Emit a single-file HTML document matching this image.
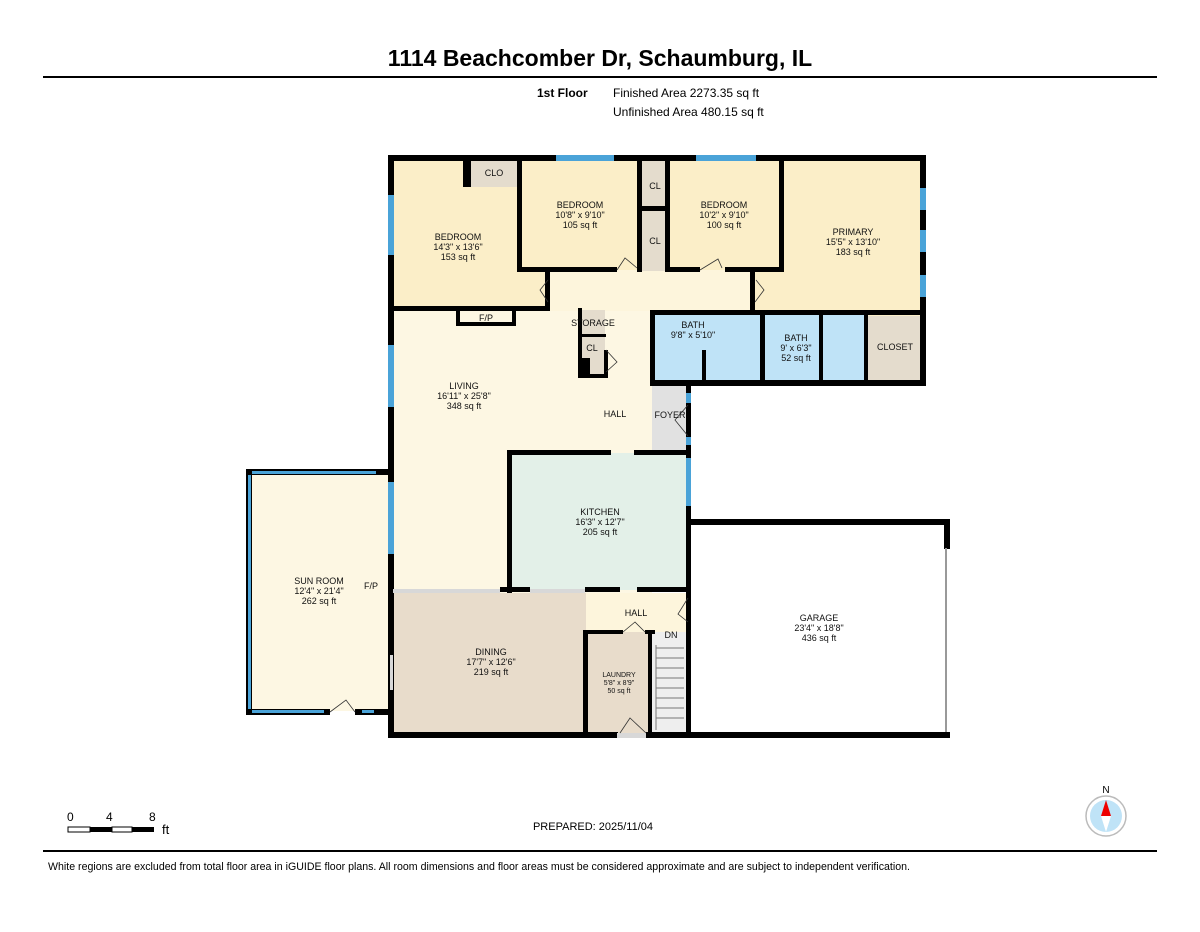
<!DOCTYPE html>
<html><head><meta charset="utf-8"><style>
body{margin:0;background:#fff;width:1200px;height:927px;overflow:hidden;font-family:"Liberation Sans",sans-serif}
svg text{font-family:"Liberation Sans",sans-serif}
</style></head><body>
<svg width="1200" height="927" viewBox="0 0 1200 927" xmlns="http://www.w3.org/2000/svg">
<text x="600" y="66" font-size="23" font-weight="bold" text-anchor="middle">1114 Beachcomber Dr, Schaumburg, IL</text>
<line x1="43" y1="77" x2="1157" y2="77" stroke="#000" stroke-width="2"/>
<text x="537" y="97" font-size="12" font-weight="bold">1st Floor</text>
<text x="613" y="97" font-size="12">Finished Area 2273.35 sq ft</text>
<text x="613" y="116" font-size="12">Unfinished Area 480.15 sq ft</text>

<g stroke="none">
<rect x="393" y="159" width="160" height="152" fill="#fbeec8"/>
<rect x="520" y="159" width="122" height="112" fill="#fbeec8"/>
<rect x="668" y="159" width="116" height="112" fill="#fbeec8"/>
<rect x="782" y="159" width="141" height="157" fill="#fbeec8"/>
<rect x="755" y="268" width="30" height="44" fill="#fbeec8"/>
<rect x="550" y="270" width="205" height="42" fill="#fdf5dc"/>
<rect x="640" y="159" width="28" height="112" fill="#e4dccd"/>
<rect x="466" y="159" width="54" height="28" fill="#e4dccd"/>
<rect x="393" y="311" width="259" height="282" fill="#fdf7e3"/>
<rect x="652" y="380" width="36" height="72" fill="#e1e1e1"/>
<rect x="652" y="314" width="112" height="66" fill="#bfe3f7"/>
<rect x="764" y="314" width="102" height="66" fill="#bfe3f7"/>
<rect x="866" y="316" width="56" height="64" fill="#e4dccd"/>
<rect x="580" y="310" width="25" height="65" fill="#e4dccd"/>
<rect x="510" y="453" width="178" height="137" fill="#e3f0e8"/>
<rect x="252" y="473" width="136" height="238" fill="#fdf7e3"/>
<rect x="393" y="593" width="193" height="141" fill="#e8dccb"/>
<rect x="586" y="593" width="102" height="40" fill="#fdf5dc"/>
<rect x="588" y="632" width="60" height="102" fill="#e8dccb"/>
<rect x="652" y="632" width="36" height="102" fill="#eeeeee"/>
</g>
<g stroke="#777" stroke-width="1">
<line x1="656" y1="648" x2="684" y2="648"/><line x1="656" y1="658" x2="684" y2="658"/><line x1="656" y1="668" x2="684" y2="668"/>
<line x1="656" y1="678" x2="684" y2="678"/><line x1="656" y1="688" x2="684" y2="688"/><line x1="656" y1="698" x2="684" y2="698"/>
<line x1="656" y1="708" x2="684" y2="708"/><line x1="656" y1="718" x2="684" y2="718"/><line x1="656" y1="645" x2="656" y2="730"/>
</g>
<g fill="#000">
<rect x="388" y="155" width="538" height="6"/>
<rect x="388" y="155" width="6" height="583"/>
<rect x="920" y="155" width="6" height="231"/>
<rect x="650" y="380" width="276" height="6"/>
<rect x="390" y="306" width="160" height="5"/>
<rect x="517" y="155" width="5" height="117"/>
<rect x="517" y="267" width="100" height="5"/>
<rect x="637" y="155" width="5" height="117"/>
<rect x="665" y="155" width="5" height="117"/>
<rect x="640" y="206" width="28" height="5"/>
<rect x="670" y="267" width="30" height="5"/>
<rect x="725" y="267" width="57" height="5"/>
<rect x="779" y="155" width="5" height="117"/>
<rect x="463" y="155" width="8" height="32"/>
<rect x="545" y="272" width="5" height="38"/>
<rect x="750" y="272" width="5" height="38"/>
<rect x="650" y="310" width="270" height="5"/>
<rect x="650" y="310" width="5" height="72"/>
<rect x="760" y="314" width="5" height="70"/>
<rect x="819" y="314" width="4" height="68"/>
<rect x="864" y="314" width="4" height="68"/>
<rect x="702" y="350" width="4" height="32"/>
<rect x="456" y="310" width="4" height="16"/><rect x="456" y="322" width="60" height="4"/><rect x="512" y="310" width="4" height="16"/>
<rect x="578" y="308" width="4" height="70"/><rect x="604" y="350" width="4" height="28"/><rect x="578" y="374" width="30" height="4"/>
<rect x="580" y="334" width="26" height="3"/>
<rect x="580" y="358" width="10" height="18"/>
<rect x="686" y="386" width="5" height="350"/>
<rect x="507" y="450" width="104" height="5"/><rect x="634" y="450" width="57" height="5"/>
<rect x="507" y="450" width="5" height="143"/>
<rect x="500" y="587" width="30" height="5"/><rect x="585" y="587" width="35" height="5"/><rect x="637" y="587" width="54" height="5"/>
<rect x="686" y="519" width="264" height="6"/>
<rect x="944" y="519" width="6" height="30"/>
<rect x="945" y="548" width="2" height="188" fill="#999"/>
<rect x="388" y="732" width="230" height="6"/><rect x="646" y="732" width="304" height="6"/>
<rect x="583" y="630" width="5" height="106"/><rect x="583" y="630" width="40" height="4"/><rect x="645" y="630" width="10" height="4"/>
<rect x="648" y="630" width="4" height="106"/>
<rect x="246" y="469" width="6" height="246"/>
<rect x="246" y="469" width="142" height="6"/>
<rect x="246" y="709" width="84" height="6"/><rect x="355" y="709" width="36" height="6"/>
</g>
<g fill="#4aa3d8">
<rect x="556" y="155" width="58" height="6"/><rect x="696" y="155" width="60" height="6"/>
<rect x="920" y="188" width="6" height="22"/><rect x="920" y="230" width="6" height="22"/><rect x="920" y="275" width="6" height="22"/>
<rect x="388" y="195" width="6" height="60"/><rect x="388" y="345" width="6" height="62"/><rect x="388" y="482" width="6" height="72"/>
<rect x="686" y="393" width="5" height="10"/><rect x="686" y="437" width="5" height="8"/><rect x="686" y="458" width="5" height="48"/>
<rect x="252" y="471" width="124" height="3"/><rect x="248" y="475" width="3" height="234"/><rect x="252" y="710" width="72" height="3"/><rect x="362" y="710" width="12" height="3"/>
</g>
<g fill="#d8d8d8">
<rect x="393" y="589" width="107" height="4"/><rect x="530" y="589" width="55" height="4"/><rect x="390" y="655" width="3" height="35"/>
<rect x="617" y="733" width="29" height="5"/>
</g>
<g fill="none" stroke="#333" stroke-width="0.8">
<path d="M617 270 L625 258 L637 268"/><path d="M700 270 L718 259 L722 268"/>
<path d="M548 280 L540 290 L548 302"/><path d="M756 280 L764 290 L755 302"/>
<path d="M330 712 L346 700 L355 712"/><path d="M620 733 L630 718 L646 733"/>
<path d="M623 632 L635 622 L645 632"/><path d="M688 598 L678 614 L688 622"/>
<path d="M688 405 L675 420 L688 436"/><path d="M606 350 L617 362 L606 372"/>
</g>
<g font-size="9" text-anchor="middle" fill="#111">
<text x="458" y="240">BEDROOM</text><text x="458" y="250">14'3" x 13'6"</text><text x="458" y="260">153 sq ft</text>
<text x="580" y="208">BEDROOM</text><text x="580" y="218">10'8" x 9'10"</text><text x="580" y="228">105 sq ft</text>
<text x="724" y="208">BEDROOM</text><text x="724" y="218">10'2" x 9'10"</text><text x="724" y="228">100 sq ft</text>
<text x="853" y="235">PRIMARY</text><text x="853" y="245">15'5" x 13'10"</text><text x="853" y="255">183 sq ft</text>
<text x="494" y="176">CLO</text><text x="655" y="189">CL</text><text x="655" y="244">CL</text>
<text x="486" y="321">F/P</text><text x="593" y="326">STORAGE</text><text x="592" y="351">CL</text>
<text x="693" y="328">BATH</text><text x="693" y="338">9'8" x 5'10"</text>
<text x="796" y="341">BATH</text><text x="796" y="351">9' x 6'3"</text><text x="796" y="361">52 sq ft</text>
<text x="895" y="350">CLOSET</text>
<text x="464" y="389">LIVING</text><text x="464" y="399">16'11" x 25'8"</text><text x="464" y="409">348 sq ft</text>
<text x="615" y="417">HALL</text><text x="670" y="418">FOYER</text>
<text x="600" y="515">KITCHEN</text><text x="600" y="525">16'3" x 12'7"</text><text x="600" y="535">205 sq ft</text>
<text x="319" y="584">SUN ROOM</text><text x="319" y="594">12'4" x 21'4"</text><text x="319" y="604">262 sq ft</text>
<text x="371" y="589">F/P</text>
<text x="491" y="655">DINING</text><text x="491" y="665">17'7" x 12'6"</text><text x="491" y="675">219 sq ft</text>
<text x="636" y="616">HALL</text><text x="671" y="638">DN</text>
<text x="619" y="677" font-size="7">LAUNDRY</text><text x="619" y="685" font-size="7">5'8" x 8'9"</text><text x="619" y="693" font-size="7">50 sq ft</text>
<text x="819" y="621">GARAGE</text><text x="819" y="631">23'4" x 18'8"</text><text x="819" y="641">436 sq ft</text>
</g>
<text x="67" y="821" font-size="12">0</text><text x="106" y="821" font-size="12">4</text><text x="149" y="821" font-size="12">8</text>
<rect x="68" y="827" width="22" height="5" fill="#fff" stroke="#000"/><rect x="90" y="827" width="22" height="5" fill="#000"/>
<rect x="112" y="827" width="20" height="5" fill="#fff" stroke="#000"/><rect x="132" y="827" width="22" height="5" fill="#000"/>
<text x="162" y="834" font-size="13">ft</text>
<text x="593" y="830" font-size="11" text-anchor="middle">PREPARED: 2025/11/04</text>
<text x="1106" y="793" font-size="10" text-anchor="middle">N</text>
<circle cx="1106" cy="816" r="20" fill="#fff" stroke="#bbb" stroke-width="1.5"/>
<circle cx="1106" cy="816" r="16" fill="#bfe3f7"/>
<polygon points="1106,800 1101,816 1111,816" fill="#e00"/>
<polygon points="1106,832 1101,816 1111,816" fill="#fff"/>
<line x1="43" y1="851" x2="1157" y2="851" stroke="#000" stroke-width="2"/>
<text x="48" y="870" font-size="10.6" textLength="862">White regions are excluded from total floor area in iGUIDE floor plans. All room dimensions and floor areas must be considered approximate and are subject to independent verification.</text>
</svg>
</body></html>
